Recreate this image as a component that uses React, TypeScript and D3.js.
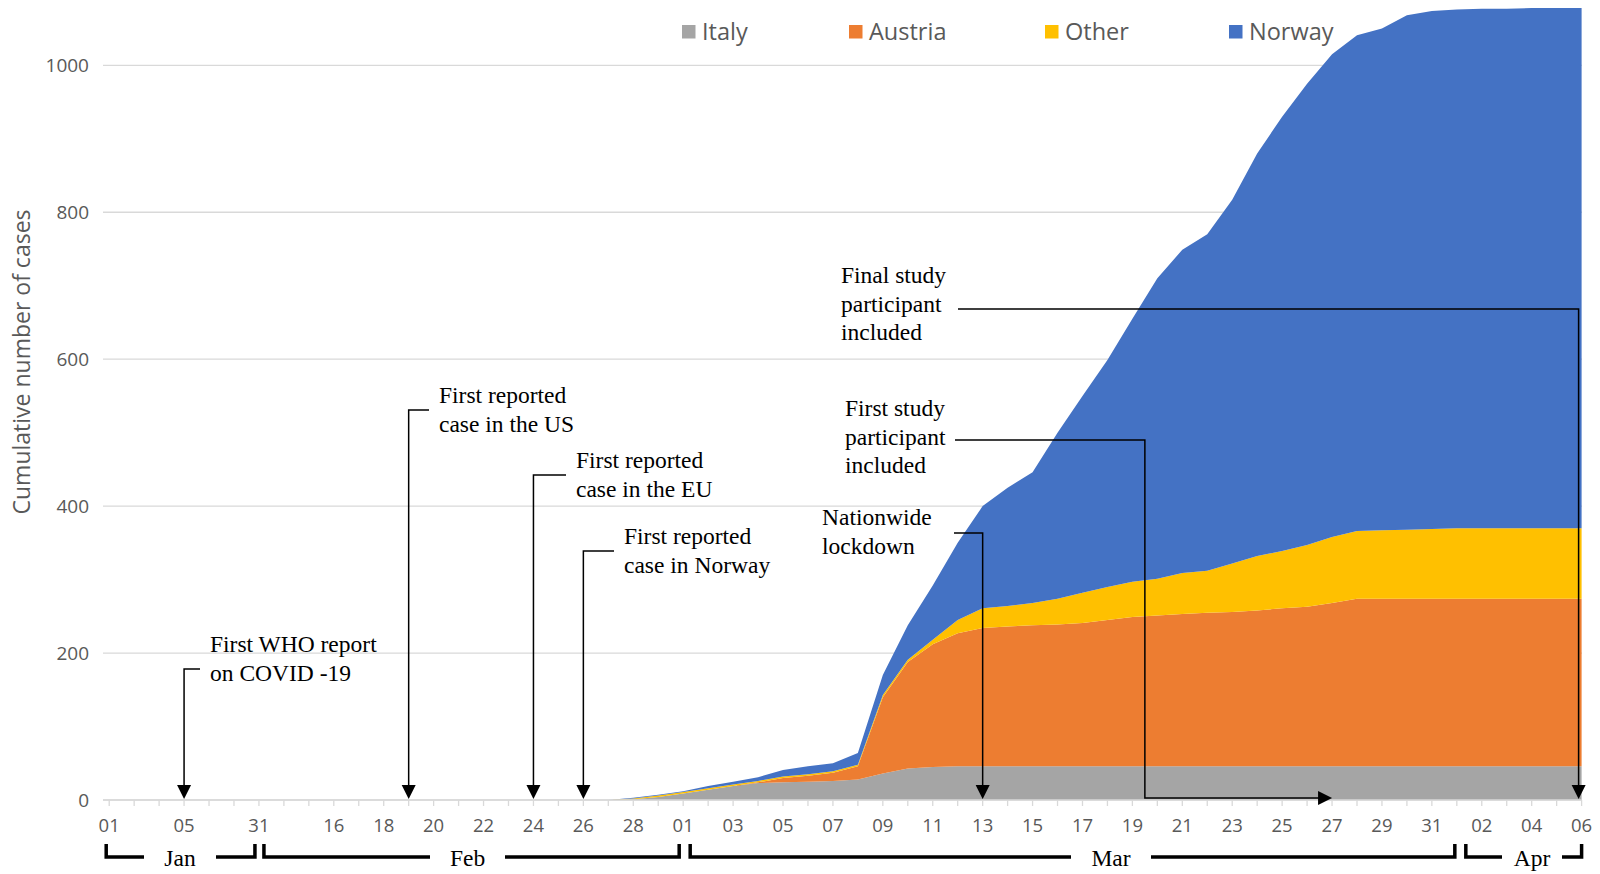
import React from 'react';
import * as d3 from 'd3';

// ---------- categories ----------
const fmt = d3.timeFormat('%d %b');
const janCategories = ['01 Jan', 'Jan gap a', 'Jan gap b', '05 Jan', 'Jan gap c', 'Jan gap d', '31 Jan'];
const dailyCategories = d3.timeDay.range(new Date(2020, 1, 14), new Date(2020, 3, 7)).map(fmt);
const xCategories = [...janCategories, ...dailyCategories];

const tickCategories = [
  '01 Jan', '05 Jan', '31 Jan', '16 Feb', '18 Feb', '20 Feb', '22 Feb', '24 Feb', '26 Feb', '28 Feb',
  '01 Mar', '03 Mar', '05 Mar', '07 Mar', '09 Mar', '11 Mar', '13 Mar', '15 Mar', '17 Mar', '19 Mar',
  '21 Mar', '23 Mar', '25 Mar', '27 Mar', '29 Mar', '31 Mar', '02 Apr', '04 Apr', '06 Apr',
];

// data dates: 27 Feb .. 06 Apr
const dataDates = d3.timeDay.range(new Date(2020, 1, 27), new Date(2020, 3, 7)).map(fmt);

// ---------- series (cases per source, cumulative) ----------
const seriesNames = ['Italy', 'Austria', 'Other', 'Norway'];
const seriesColors = ['#a5a5a5', '#ed7d31', '#ffc000', '#4472c4'];

const italy = [
  0, 1, 4,
  9, 14, 19, 23, 24, 25, 26, 28, 36, 43, 45, 46, 46, 46, 46, 46, 46, 46, 46, 46, 46, 46, 46, 46, 46, 46, 46, 46, 46, 46, 46,
  46, 46, 46, 46, 46, 46,
];
const austria = [
  0, 0, 0,
  0, 0, 0, 1, 6, 8, 11, 18, 104, 145, 167, 181, 188, 190, 192, 193, 195, 199, 203, 205, 207, 209, 210, 212, 215, 217, 222, 228, 228, 228, 228,
  228, 228, 228, 228, 228, 228,
];
const other = [
  0, 1, 2,
  2, 2, 2, 2, 2, 2, 2, 2, 3, 3, 6, 18, 27, 28, 30, 35, 41, 45, 48, 50, 56, 57, 66, 74, 78, 84, 90, 92, 93, 94, 95,
  96, 96, 96, 96, 96, 96,
];
const norway = [
  0, 1, 1,
  1, 3, 4, 5, 9, 11, 11, 16, 27, 47, 74, 105, 139, 161, 178, 226, 268, 309, 358, 409, 440, 458, 495, 548, 591, 628, 657, 675, 683, 700, 705,
  706, 707, 707, 708, 708, 708,
];

const yTicks = [0, 200, 400, 600, 800, 1000];
const monthLabels = ['Jan', 'Feb', 'Mar', 'Apr'];

const SANS = "'Open Sans', 'Noto Sans', sans-serif";
const SERIF = "'Liberation Serif', 'Times New Roman', serif";

export default function App() {
  const W = 1600;
  const H = 874;
  const x = d3.scalePoint<string>().domain(xCategories).range([109.2, 1581.6]);
  const y = d3.scaleLinear().domain([0, 1000]).range([800, 65.3]);

  const rows = dataDates.map((d, i) => ({
    date: d,
    Italy: italy[i],
    Austria: austria[i],
    Other: other[i],
    Norway: norway[i],
  }));
  const stacked = d3.stack<any>().keys(seriesNames)(rows);
  const area = d3
    .area<any>()
    .x((d) => x(d.data.date) as number)
    .y0((d) => y(d[0]))
    .y1((d) => y(d[1]));

  const X = (c: string) => x(c) as number;
  const tipY = 799;
  const downArrow = (cx: number) => `M${cx - 7},${tipY - 14}L${cx + 7},${tipY - 14}L${cx},${tipY}Z`;

  const fs = 23.5;
  const lh = 28.6;

  const leftAnns = [
    { lines: ['First WHO report', 'on COVID -19'], target: '05 Jan', tx: 210, ty: 652, stubY: 669 },
    { lines: ['First reported', 'case in the US'], target: '19 Feb', tx: 439, ty: 403, stubY: 410 },
    { lines: ['First reported', 'case in the EU'], target: '24 Feb', tx: 576, ty: 468, stubY: 475 },
    { lines: ['First reported', 'case in Norway'], target: '26 Feb', tx: 624, ty: 544, stubY: 551 },
  ];

  const lockX = X('13 Mar');
  const studyElbowX = (X('19 Mar') + X('20 Mar')) / 2;
  const studyTipX = X('27 Mar');
  const finalX = X('06 Apr') - 3;

  // bracket extents and label gaps (pixel layout)
  const months = [
    { from: X('01 Jan') - 3, to: X('31 Jan') - 4, gapL: 144, gapR: 216 },
    { from: X('31 Jan') + 5, to: X('01 Mar') - 4, gapL: 430, gapR: 505 },
    { from: X('01 Mar') + 7, to: X('01 Apr') - 2, gapL: 1071, gapR: 1151 },
    { from: X('01 Apr') + 9, to: X('06 Apr'), gapL: 1502, gapR: 1562 },
  ];
  const bracketY = 857;

  const legendX = [682, 849, 1045, 1229];

  return (
    <svg
      width={W}
      height={H}
      viewBox={`0 0 ${W} ${H}`}
      style={{ position: 'absolute', left: 0, top: 0, background: '#fff' }}
    >
      <rect x={0} y={0} width={W} height={H} fill="#fff" />
      {/* gridlines */}
      {yTicks.map((t) => (
        <line key={t} x1={103} x2={1582} y1={y(t)} y2={y(t)} stroke="#d9d9d9" strokeWidth={1.3} />
      ))}
      {/* y tick labels */}
      {yTicks.map((t) => (
        <text
          key={'l' + t}
          x={89}
          y={y(t)}
          dy="0.35em"
          textAnchor="end"
          fontFamily={SANS}
          fontSize={19}
          fill="#595959"
        >
          {t}
        </text>
      ))}
      {/* y title */}
      <text
        transform={`translate(30,362) rotate(-90)`}
        textAnchor="middle"
        fontFamily={SANS}
        fontSize={23}
        fill="#595959"
      >
        Cumulative number of cases
      </text>

      {/* stacked areas */}
      {stacked.map((s, i) => (
        <path key={s.key} d={area(s) || ''} fill={seriesColors[i]} />
      ))}

      {/* x axis line & ticks */}
      <line x1={103} x2={1582} y1={800} y2={800} stroke="#d9d9d9" strokeWidth={1.5} />
      {xCategories.map((c) => (
        <line key={'t' + c} x1={X(c)} x2={X(c)} y1={800} y2={806} stroke="#d9d9d9" strokeWidth={1.3} />
      ))}
      {tickCategories.map((c) => (
        <text
          key={'x' + c}
          x={X(c)}
          y={826}
          dy="0.35em"
          textAnchor="middle"
          fontFamily={SANS}
          fontSize={18.5}
          fill="#595959"
        >
          {c.slice(0, 2)}
        </text>
      ))}

      {/* month brackets */}
      {months.map((m, i) => {
        const mid = (m.gapL + m.gapR) / 2;
        return (
          <g key={monthLabels[i]}>
            <path
              d={`M${m.from},${bracketY - 13}V${bracketY}H${m.gapL}`}
              fill="none"
              stroke="#000"
              strokeWidth={3.5}
            />
            <path
              d={`M${m.gapR},${bracketY}H${m.to}V${bracketY - 13}`}
              fill="none"
              stroke="#000"
              strokeWidth={3.5}
            />
            <text x={mid} y={bracketY + 9} textAnchor="middle" fontFamily={SERIF} fontSize={23.5} fill="#000">
              {monthLabels[i]}
            </text>
          </g>
        );
      })}

      {/* left-side annotations (arrow left of text) */}
      {leftAnns.map((a) => {
        const ax = X(a.target);
        return (
          <g key={a.target}>
            <path
              d={`M${a.tx - 10},${a.stubY}H${ax}V${tipY - 12}`}
              fill="none"
              stroke="#000"
              strokeWidth={1.5}
            />
            <path d={downArrow(ax)} fill="#000" />
            {a.lines.map((l, j) => (
              <text key={j} x={a.tx} y={a.ty + j * lh} fontFamily={SERIF} fontSize={fs} fill="#000">
                {l}
              </text>
            ))}
          </g>
        );
      })}

      {/* Nationwide lockdown */}
      <g>
        <path d={`M954,533H${lockX}V${tipY - 12}`} fill="none" stroke="#000" strokeWidth={1.5} />
        <path d={downArrow(lockX)} fill="#000" />
        {['Nationwide', 'lockdown'].map((l, j) => (
          <text key={j} x={822} y={525 + j * lh} fontFamily={SERIF} fontSize={fs} fill="#000">
            {l}
          </text>
        ))}
      </g>

      {/* First study participant included */}
      <g>
        <path
          d={`M955,440H${studyElbowX}V798H${studyTipX - 12}`}
          fill="none"
          stroke="#000"
          strokeWidth={1.5}
        />
        <path d={`M${studyTipX - 14},791L${studyTipX - 14},805L${studyTipX},798Z`} fill="#000" />
        {['First study', 'participant', 'included'].map((l, j) => (
          <text key={j} x={845} y={416 + j * lh} fontFamily={SERIF} fontSize={fs} fill="#000">
            {l}
          </text>
        ))}
      </g>

      {/* Final study participant included */}
      <g>
        <path d={`M958,309H${finalX}V${tipY - 12}`} fill="none" stroke="#000" strokeWidth={1.5} />
        <path d={downArrow(finalX)} fill="#000" />
        {['Final study', 'participant', 'included'].map((l, j) => (
          <text key={j} x={841} y={283 + j * lh} fontFamily={SERIF} fontSize={fs} fill="#000">
            {l}
          </text>
        ))}
      </g>

      {/* legend */}
      {seriesNames.map((n, i) => (
        <g key={n}>
          <rect x={legendX[i]} y={25} width={13.5} height={13.5} fill={seriesColors[i]} />
          <text x={legendX[i] + 20} y={31.8} dy="0.36em" fontFamily={SANS} fontSize={23.5} fill="#595959">
            {n}
          </text>
        </g>
      ))}
    </svg>
  );
}
